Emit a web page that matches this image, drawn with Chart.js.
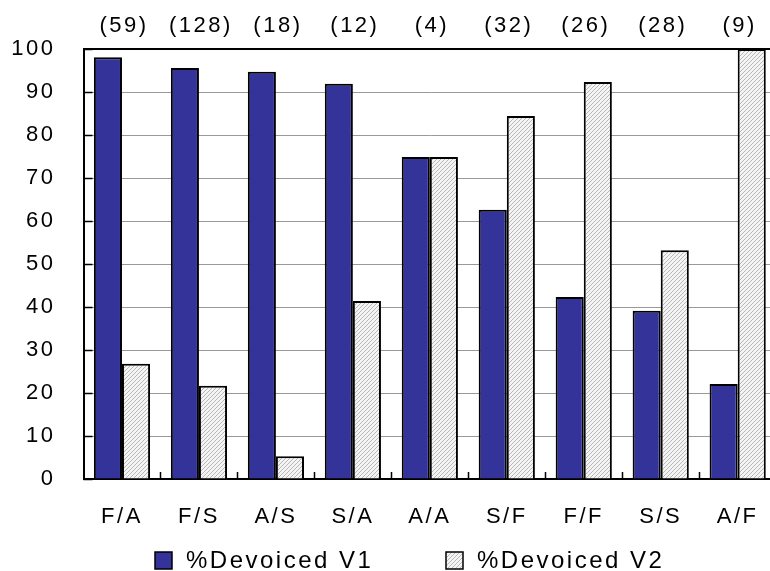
<!DOCTYPE html>
<html>
<head>
<meta charset="utf-8">
<script src="https://cdn.jsdelivr.net/npm/chart.js@4"></script>
<style>
  html, body { margin: 0; padding: 0; background: #fff; overflow: hidden; }
  #wrap { width: 780px; height: 571px; }
</style>
</head>
<body>
<div id="wrap"><canvas id="chart" width="780" height="571"></canvas></div>
<script>
// Datos
const categorias = ['F/A', 'F/S', 'A/S', 'S/A', 'A/A', 'S/F', 'F/F', 'S/S', 'A/F'];
const conteos = ['(59)', '(128)', '(18)', '(12)', '(4)', '(32)', '(26)', '(28)', '(9)'];
const devoicedV1 = [98.1, 95.6, 94.7, 91.9, 74.9, 62.6, 42.3, 39.1, 22.1];
const devoicedV2 = [26.8, 21.7, 5.3, 41.4, 74.9, 84.4, 92.3, 53.2, 100];
const yTicks = [0, 10, 20, 30, 40, 50, 60, 70, 80, 90, 100];

const FONT = '"Liberation Sans", Arial, sans-serif';

// Relleno rayado para la serie V2
function hatch() {
  const c = document.createElement('canvas');
  c.width = 4; c.height = 4;
  const p = c.getContext('2d');
  p.fillStyle = '#f4f4f4';
  p.fillRect(0, 0, 4, 4);
  p.fillStyle = '#b8b8b8';
  for (let i = 0; i < 4; i++) p.fillRect(i, 3 - i, 1, 1);
  return p.createPattern(c, 'repeat');
}

const extras = {
  id: 'extras',
  beforeDraw(chart) {
    chart.ctx.letterSpacing = '2.5px';
  },
  beforeDatasetsDraw(chart) {
    const { ctx, chartArea: a, scales: { x, y } } = chart;
    ctx.save();
    ctx.strokeStyle = '#000';
    ctx.lineWidth = 1.5;
    ctx.beginPath();
    // marcas internas del eje Y
    yTicks.forEach(v => {
      const py = Math.round(y.getPixelForValue(v)) + 0.5;
      ctx.moveTo(a.left, py); ctx.lineTo(a.left + 9, py);
    });
    // marcas internas del eje X entre categorias
    for (let i = 1; i < categorias.length; i++) {
      const px = Math.round((x.getPixelForValue(i - 1) + x.getPixelForValue(i)) / 2) + 0.5;
      ctx.moveTo(px, a.bottom); ctx.lineTo(px, a.bottom - 7);
    }
    ctx.stroke();
    ctx.restore();
  },
  afterDatasetsDraw(chart) {
    // las etiquetas del eje X se dibujan despues (z: 1) con mas espaciado
    chart.ctx.letterSpacing = '4.5px';
  },
  afterDraw(chart) {
    const { ctx, chartArea: a, scales: { x } } = chart;
    ctx.save();
    // borde superior
    ctx.strokeStyle = '#000';
    ctx.lineWidth = 2;
    ctx.beginPath();
    ctx.moveTo(a.left, a.top); ctx.lineTo(a.right, a.top);
    ctx.stroke();

    // conteos sobre cada categoria
    ctx.letterSpacing = '2.5px';
    ctx.fillStyle = '#000';
    ctx.font = '22px ' + FONT;
    ctx.textAlign = 'center';
    ctx.textBaseline = 'middle';
    conteos.forEach((t, i) => ctx.fillText(t, x.getPixelForValue(i) + 2, 26));

    // leyenda
    const pos = [{ bx: 155, tx: 186 }, { bx: 446, tx: 477 }];
    ctx.letterSpacing = '2.5px';
    ctx.font = '24px ' + FONT;
    ctx.textAlign = 'left';
    chart.data.datasets.forEach((ds, i) => {
      ctx.fillStyle = ds.backgroundColor;
      ctx.fillRect(pos[i].bx, 552, 17, 17);
      ctx.lineWidth = 1.5;
      ctx.strokeStyle = '#000';
      ctx.strokeRect(pos[i].bx, 552, 17, 17);
      ctx.fillStyle = '#000';
      ctx.fillText(ds.label, pos[i].tx, 561);
    });
    ctx.restore();
  }
};

const ctx = document.getElementById('chart').getContext('2d');
new Chart(ctx, {
  type: 'bar',
  data: {
    labels: categorias,
    datasets: [
      {
        label: '%Devoiced V1',
        data: devoicedV1,
        backgroundColor: '#333399',
        borderColor: '#000',
        borderWidth: 2,
        categoryPercentage: 0.73,
        barPercentage: 1
      },
      {
        label: '%Devoiced V2',
        data: devoicedV2,
        backgroundColor: hatch(),
        borderColor: '#000',
        borderWidth: 2,
        categoryPercentage: 0.73,
        barPercentage: 1
      }
    ]
  },
  options: {
    responsive: false,
    animation: false,
    layout: { padding: { top: 49, right: 3.5, left: 0, bottom: 0 } },
    plugins: {
      legend: { display: false },
      tooltip: { enabled: false }
    },
    scales: {
      x: {
        z: 1,
        grid: { display: false, drawTicks: false },
        border: { color: '#000', width: 2 },
        ticks: { color: '#000', font: { family: FONT, size: 22 }, padding: 25, maxRotation: 0 },
        afterFit: s => { s.height = 92; }
      },
      y: {
        min: 0,
        max: 100,
        grid: { color: '#999', lineWidth: 1, drawTicks: false },
        border: { color: '#000', width: 2 },
        ticks: { stepSize: 10, color: '#000', font: { family: FONT, size: 22 }, padding: 28 },
        afterFit: s => { s.width = 83.5; }
      }
    }
  },
  plugins: [extras]
});
</script>
</body>
</html>
